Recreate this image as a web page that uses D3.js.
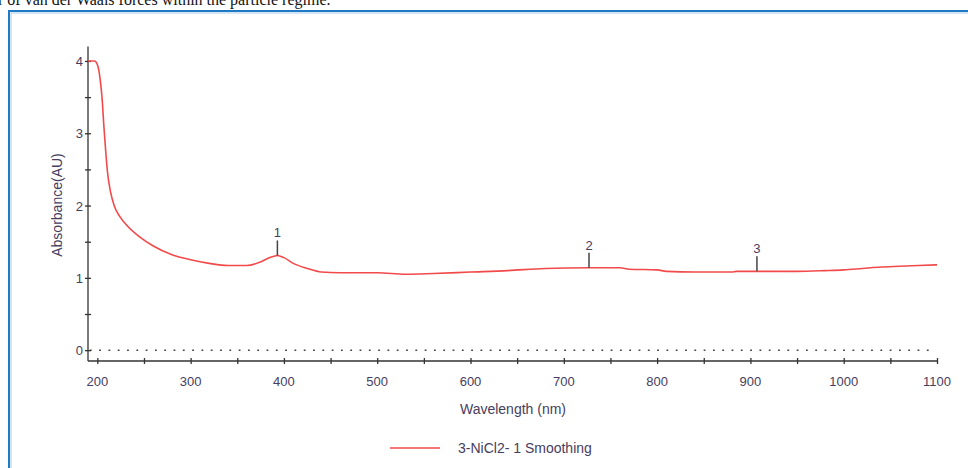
<!DOCTYPE html>
<html>
<head>
<meta charset="utf-8">
<script src="https://cdn.jsdelivr.net/npm/d3@7"></script>
<style>
  body { margin: 0; background: #fff; }
  #chart { position: relative; width: 968px; height: 468px; overflow: hidden; }
</style>
</head>
<body>
<div id="chart"></div>
<script>
// spectrum
var wavelengths = [190, 197, 200, 203, 205, 207, 209, 211, 214, 218, 224, 232, 245, 260, 280, 300, 320, 340, 360, 375, 385, 393, 400, 410, 425, 440, 460, 500, 530, 560, 600, 640, 680, 727, 760, 770, 800, 810, 840, 880, 885, 907, 950, 980, 1000, 1020, 1040, 1060, 1080, 1100];
var absorbance = [4.0, 4.0, 3.95, 3.75, 3.5, 3.1, 2.75, 2.45, 2.2, 2.0, 1.85, 1.72, 1.57, 1.44, 1.32, 1.25, 1.2, 1.17, 1.17, 1.22, 1.28, 1.31, 1.28, 1.2, 1.13, 1.08, 1.07, 1.07, 1.05, 1.06, 1.08, 1.1, 1.13, 1.14, 1.14, 1.12, 1.11, 1.09, 1.08, 1.08, 1.09, 1.09, 1.09, 1.1, 1.11, 1.13, 1.15, 1.16, 1.17, 1.18];

// peak markers
var peakLabels = ["1", "2", "3"];
var peakWavelengths = [393, 727, 907];
var peakAbs = [1.31, 1.14, 1.09];

var xTicks = [200, 300, 400, 500, 600, 700, 800, 900, 1000, 1100];
var yTicks = [0, 1, 2, 3, 4];
var seriesName = "3-NiCl2- 1 Smoothing";

const width = 968, height = 468;
const axisColor = "#333";
const labelColor = "#463d60";
const lineColor = "#f24a4a";

const svg = d3.select("#chart").append("svg")
    .attr("width", width)
    .attr("height", height);

// cut-off text line from the document above the figure
svg.append("text")
    .attr("x", -2)
    .attr("y", 5)
    .style("font-family", "'Liberation Serif', serif")
    .style("font-size", "16px")
    .attr("fill", "#111")
    .text("r of van der Waals forces within the particle regime.");

// blue frame of the figure box
svg.append("path")
    .attr("d", `M9,${height} V11 H${width}`)
    .attr("fill", "none")
    .attr("stroke", "#1f7ac6")
    .attr("stroke-width", 2);
svg.append("path")
    .attr("d", `M11,${height} V13 H${width}`)
    .attr("fill", "none")
    .attr("stroke", "#a9cdec")
    .attr("stroke-width", 1);

// scales
const x = d3.scaleLinear().domain([190, 1100]).range([88, 937]);
const y = d3.scaleLinear().domain([-0.15, 4.2]).range([361, 46.5]);

const font = "'Liberation Sans', Arial, sans-serif";

// dotted zero line
svg.append("line")
    .attr("x1", x(192)).attr("x2", x(1097))
    .attr("y1", y(0)).attr("y2", y(0))
    .attr("stroke", "#444")
    .attr("stroke-width", 1.5)
    .attr("stroke-dasharray", "1.8,7.5");

// x axis
const xAxis = svg.append("g")
    .attr("transform", `translate(0, ${y(-0.15)})`)
    .call(d3.axisBottom(x).tickValues(d3.range(200, 1101, 50)).tickSize(3).tickSizeOuter(0).tickFormat(""));
xAxis.selectAll(".tick line").attr("y1", -3);
xAxis.select(".domain").attr("d", `M${x(190)},0H${x(1100)}`);
xAxis.selectAll("line, path").attr("stroke", axisColor).attr("stroke-width", 1.3);

svg.append("g").selectAll("text")
    .data(xTicks)
    .enter().append("text")
    .attr("x", d => x(d))
    .attr("y", 386)
    .attr("text-anchor", "middle")
    .style("font-family", font)
    .style("font-size", "13px")
    .attr("fill", labelColor)
    .text(d => d);

// y axis
const yAxis = svg.append("g")
    .attr("transform", `translate(${x(190)}, 0)`)
    .call(d3.axisLeft(y).tickValues(d3.range(0, 4.01, 0.5)).tickSize(3).tickSizeOuter(0).tickFormat(""));
yAxis.selectAll(".tick line").attr("x1", 3);
yAxis.select(".domain").attr("d", `M0,${y(4.2)}V${y(-0.15)}`);
yAxis.selectAll("line, path").attr("stroke", axisColor).attr("stroke-width", 1.3);

svg.append("g").selectAll("text")
    .data(yTicks)
    .enter().append("text")
    .attr("x", 83)
    .attr("y", d => y(d) + 5)
    .attr("text-anchor", "end")
    .style("font-family", font)
    .style("font-size", "13px")
    .attr("fill", labelColor)
    .text(d => d);

// axis titles
svg.append("text")
    .attr("x", 513)
    .attr("y", 414)
    .attr("text-anchor", "middle")
    .style("font-family", font)
    .style("font-size", "14px")
    .attr("fill", labelColor)
    .text("Wavelength (nm)");

svg.append("text")
    .attr("transform", `translate(62, 205) rotate(-90)`)
    .attr("text-anchor", "middle")
    .style("font-family", font)
    .style("font-size", "14px")
    .attr("fill", labelColor)
    .text("Absorbance(AU)");

// spectrum line
const data = wavelengths.map((w, i) => ({ w: w, a: absorbance[i] }));
const line = d3.line()
    .x(d => x(d.w))
    .y(d => y(d.a))
    .curve(d3.curveMonotoneX);

svg.append("path")
    .datum(data)
    .attr("d", line)
    .attr("fill", "none")
    .attr("stroke", lineColor)
    .attr("stroke-width", 1.6);

// peak markers
const peaks = peakLabels.map((l, i) => ({ label: l, w: peakWavelengths[i], a: peakAbs[i] }));
const pk = svg.append("g").selectAll("g")
    .data(peaks)
    .enter().append("g");
pk.append("line")
    .attr("x1", d => x(d.w)).attr("x2", d => x(d.w))
    .attr("y1", d => y(d.a))
    .attr("y2", d => y(d.a) - 15)
    .attr("stroke", "#444")
    .attr("stroke-width", 1.5);
pk.append("text")
    .attr("x", d => x(d.w))
    .attr("y", d => y(d.a) - 18)
    .attr("text-anchor", "middle")
    .style("font-family", font)
    .style("font-size", "13px")
    .attr("fill", labelColor)
    .text(d => d.label);

// legend
svg.append("line")
    .attr("x1", 390).attr("x2", 440)
    .attr("y1", 448).attr("y2", 448)
    .attr("stroke", lineColor)
    .attr("stroke-width", 1.6);
svg.append("text")
    .attr("x", 458)
    .attr("y", 453)
    .style("font-family", font)
    .style("font-size", "14px")
    .attr("fill", labelColor)
    .text(seriesName);
</script>
</body>
</html>
